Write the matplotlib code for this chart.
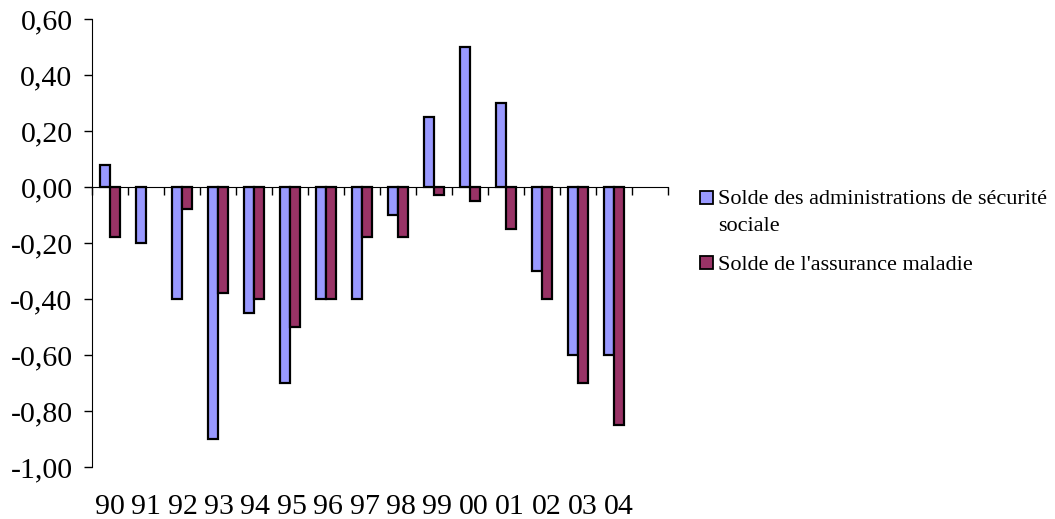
import matplotlib.pyplot as plt
import matplotlib.ticker as mticker
from matplotlib.patches import Rectangle
import numpy as np

annees = ["90", "91", "92", "93", "94", "95", "96", "97", "98", "99", "00", "01", "02", "03", "04"]
solde_asso = [0.08, -0.20, -0.40, -0.90, -0.45, -0.70, -0.40, -0.40, -0.10, 0.25, 0.50, 0.30, -0.30, -0.60, -0.60]
# pas de valeur pour l'assurance maladie en 91
solde_maladie = [-0.18, np.nan, -0.08, -0.38, -0.40, -0.50, -0.40, -0.18, -0.18, -0.03, -0.05, -0.15, -0.40, -0.70, -0.85]

bleu, bordeaux = '#9999FF', '#993366'
plt.rcParams['font.family'] = ['Liberation Serif', 'DejaVu Serif']

fig = plt.figure(figsize=(10.55, 5.19), dpi=100)
ax = fig.add_axes([0.0872, 0.1002, 0.546, 0.8632])

x = np.arange(len(annees))
largeur = 0.28
ax.bar(x - largeur / 2, solde_asso, largeur, color=bleu, edgecolor='black', linewidth=1.6)
ax.bar(x + largeur / 2, solde_maladie, largeur, color=bordeaux, edgecolor='black', linewidth=1.6)

# une case vide en bout d'axe
ax.set_xlim(-0.5, len(annees) + 0.5)
ax.set_ylim(-1.0, 0.6)
ax.yaxis.set_major_locator(mticker.MultipleLocator(0.2))
ax.yaxis.set_major_formatter(mticker.FuncFormatter(lambda v, p: ("%.2f" % v).replace('.', ',').replace('-0,00', '0,00')))
ax.tick_params(axis='y', labelsize=21.5, length=6, width=1, direction='out', pad=8)

# axe des abscisses au niveau zéro, étiquettes en bas
for s in ['top', 'right']:
    ax.spines[s].set_visible(False)
ax.spines['bottom'].set_position(('data', 0))
ax.set_xticks(np.arange(len(annees) + 2) - 0.5)
ax.set_xticklabels([])
ax.tick_params(axis='x', length=6, width=1, direction='out')
for i, a in enumerate(annees):
    ax.text(i + 0.01 * i, -0.09, a, transform=ax.get_xaxis_transform(), ha='center', va='center', fontsize=21.5)

# légende à droite : le carré est aligné sur la première ligne du texte
W, H = 1055, 519
def carre(px, py, couleur):
    fig.patches.append(Rectangle((px / W, 1 - (py + 6.5) / H), 13 / W, 13 / H, transform=fig.transFigure,
                                 facecolor=couleur, edgecolor='black', linewidth=1.3))

carre(700, 197, bleu)
fig.text(718 / W, 1 - 204 / H, "Solde des administrations de sécurité", fontsize=16, va='baseline')
fig.text(718 / W, 1 - 231 / H, "sociale", fontsize=16, va='baseline')
carre(700, 262, bordeaux)
fig.text(718 / W, 1 - 270 / H, "Solde de l'assurance maladie", fontsize=16, va='baseline')

fig.savefig('out.png', dpi=100)
